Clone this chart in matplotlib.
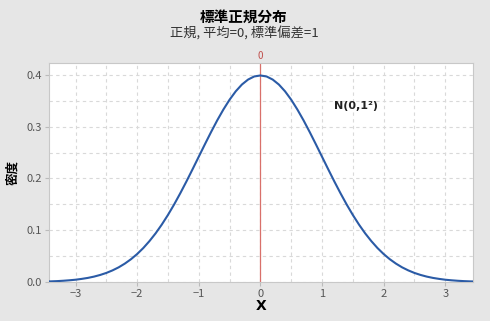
import numpy as np
import matplotlib.pyplot as plt
from matplotlib.ticker import MultipleLocator

plt.rcParams['font.family'] = ['Noto Sans CJK JP', 'DejaVu Sans']

# density, x from -3.5 to 3.5 step 0.1
x_vals = np.round(np.arange(-3.5, 3.51, 0.1), 1)
half = [0.0009, 0.0012, 0.0017, 0.0024, 0.0033, 0.0044, 0.0060, 0.0079, 0.0104, 0.0136,
        0.0175, 0.0224, 0.0283, 0.0355, 0.0440, 0.0540, 0.0656, 0.0790, 0.0940, 0.1109,
        0.1295, 0.1497, 0.1714, 0.1942, 0.2179, 0.2420, 0.2661, 0.2897, 0.3123, 0.3332,
        0.3521, 0.3683, 0.3814, 0.3910, 0.3970]
density = half + [0.3989] + half[::-1]

x_ticks = [-3, -2, -1, 0, 1, 2, 3]
y_ticks = [0.0, 0.1, 0.2, 0.3, 0.4]
title = '標準正規分布'
subtitle = '正規, 平均=0, 標準偏差=1'
curve_label = 'N(0,1²)'

bg = '#e6e6e6'
fig = plt.figure(figsize=(4.9, 3.21), dpi=100, facecolor=bg)
ax = fig.add_axes([49/490, 1 - 282/321, (473-49)/490, (282-63)/321])
ax.set_facecolor('white')

ax.plot(x_vals, density, color='#2b5ba6', lw=1.5, zorder=3)
ax.axvline(0, color='#d9706a', lw=0.9, zorder=2)
ax.text(0, 1.01, '0', transform=ax.get_xaxis_transform(), color='#c0504d',
        ha='center', va='bottom', fontsize=7)
ax.text(1.55, 0.34, curve_label, ha='center', va='center', fontsize=8,
        color='#222222', family=['DejaVu Sans'], fontweight='bold')

ax.set_xlim(-3.43, 3.45)
ax.set_ylim(0, 0.423)
ax.set_xticks(x_ticks)
ax.set_yticks(y_ticks)
ax.set_yticklabels(['%.1f' % v for v in y_ticks])
ax.xaxis.set_minor_locator(MultipleLocator(0.5))
ax.yaxis.set_minor_locator(MultipleLocator(0.05))
ax.grid(which='both', color='#d9d9d9', ls=(0, (3, 3)), lw=0.8, zorder=0)
ax.tick_params(which='major', labelsize=8, labelcolor='#555555', color='#bbbbbb',
               length=3, pad=2)
ax.tick_params(which='minor', length=0)
for s in ax.spines.values():
    s.set_color('#c8c8c8')
    s.set_linewidth(0.8)

ax.set_xlabel('X', fontsize=10, fontweight='bold', labelpad=0, family=['DejaVu Sans'])
ax.set_ylabel('密度', fontsize=9, fontweight='bold', labelpad=5)

fig.text(0.498, 1 - 17/321, title, ha='center', va='center', fontsize=10.5, fontweight='bold')
fig.text(0.498, 1 - 34/321, subtitle, ha='center', va='center', fontsize=9.5, color='#333333')

fig.savefig('out.png', dpi=100, facecolor=bg)
